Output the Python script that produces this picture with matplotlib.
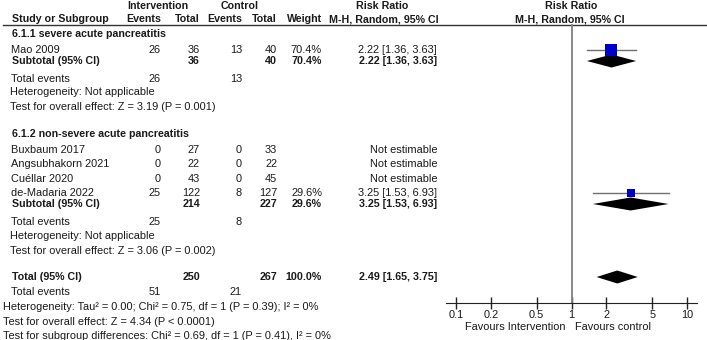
import matplotlib.pyplot as plt
import numpy as np

plt.rcParams['font.family'] = ['Liberation Sans', 'DejaVu Sans']

# study rows
studies = ['Mao 2009', 'Buxbaum 2017', 'Angsubhakorn 2021', 'Cuéllar 2020', 'de-Madaria 2022']
ev_int = [26, 0, 0, 0, 25]
tot_int = [36, 27, 22, 43, 122]
ev_ctl = [13, 0, 0, 0, 8]
tot_ctl = [40, 33, 22, 45, 127]
weights = [70.4, None, None, None, 29.6]
rr = [2.22, None, None, None, 3.25]
rr_lo = [1.36, None, None, None, 1.53]
rr_hi = [3.63, None, None, None, 6.93]

# subgroup / overall summaries
sub_names = ['Subtotal (95% CI)', 'Subtotal (95% CI)', 'Total (95% CI)']
sub_tot_int = [36, 214, 250]
sub_tot_ctl = [40, 227, 267]
sub_weight = [70.4, 29.6, 100.0]
sub_rr = [2.22, 3.25, 2.49]
sub_lo = [1.36, 1.53, 1.65]
sub_hi = [3.63, 6.93, 3.75]
sub_ev_int = [26, 25, 51]
sub_ev_ctl = [13, 8, 21]

ticks = [0.1, 0.2, 0.5, 1, 2, 5, 10]
tick_labels = ['0.1', '0.2', '0.5', '1', '2', '5', '10']

# pixel rows
study_y = [50, 150, 164, 179, 193]
sub_y = [61, 204, 277]
tev_y = [79, 222, 292]

fs = 7.9
fs_b = 7.7
col = '#1a1a1a'

fig = plt.figure(figsize=(7.07, 3.40), dpi=100)
ax = fig.add_axes([0, 0, 1, 1])
ax.set_xlim(0, 707)
ax.set_ylim(340, 0)
ax.axis('off')

def t(x, y, s, ha='left', bold=False):
    ax.text(x, y, s, ha=ha, va='center', fontsize=fs_b if bold else fs, color=col,
            fontweight='bold' if bold else 'normal')

# header
t(158, 6, 'Intervention', 'center', True)
t(240, 6, 'Control', 'center', True)
t(382, 6, 'Risk Ratio', 'center', True)
t(571, 6, 'Risk Ratio', 'center', True)
t(12, 19, 'Study or Subgroup', bold=True)
t(161, 19, 'Events', 'right', True)
t(200, 19, 'Total', 'right', True)
t(242, 19, 'Events', 'right', True)
t(277, 19, 'Total', 'right', True)
t(322, 19, 'Weight', 'right', True)
t(384, 19, 'M-H, Random, 95% CI', 'center', True)
t(570, 19, 'M-H, Random, 95% CI', 'center', True)
ax.plot([3, 707], [24.5, 24.5], color='#333333', lw=1)

t(12, 34, '6.1.1 severe acute pancreatitis', bold=True)
t(12, 134, '6.1.2 non-severe acute pancreatitis', bold=True)

for i, name in enumerate(studies):
    y = study_y[i]
    t(11, y, name)
    t(161, y, str(ev_int[i]), 'right')
    t(200, y, str(tot_int[i]), 'right')
    t(242, y, str(ev_ctl[i]), 'right')
    t(277, y, str(tot_ctl[i]), 'right')
    if weights[i] is None:
        t(437, y, 'Not estimable', 'right')
    else:
        t(322, y, f'{weights[i]:.1f}%', 'right')
        t(437, y, f'{rr[i]:.2f} [{rr_lo[i]:.2f}, {rr_hi[i]:.2f}]', 'right')

for i, name in enumerate(sub_names):
    y = sub_y[i]
    t(12, y, name, bold=True)
    t(200, y, str(sub_tot_int[i]), 'right', True)
    t(277, y, str(sub_tot_ctl[i]), 'right', True)
    t(322, y, f'{sub_weight[i]:.1f}%', 'right', True)
    t(437, y, f'{sub_rr[i]:.2f} [{sub_lo[i]:.2f}, {sub_hi[i]:.2f}]', 'right', True)
    ty = tev_y[i]
    t(11, ty, 'Total events')
    t(161, ty, str(sub_ev_int[i]), 'right')
    t(242, ty, str(sub_ev_ctl[i]), 'right')

t(10, 92, 'Heterogeneity: Not applicable')
t(10, 107, 'Test for overall effect: Z = 3.19 (P = 0.001)')
t(10, 236, 'Heterogeneity: Not applicable')
t(10, 251, 'Test for overall effect: Z = 3.06 (P = 0.002)')
t(3, 307, 'Heterogeneity: Tau² = 0.00; Chi² = 0.75, df = 1 (P = 0.39); I² = 0%')
t(3, 322, 'Test for overall effect: Z = 4.34 (P < 0.0001)')
t(3, 336, 'Test for subgroup differences: Chi² = 0.69, df = 1 (P = 0.41), I² = 0%')

# forest panel
x0, x1 = 446, 697
dec = 115.0
fa = fig.add_axes([x0 / 707, 0, (x1 - x0) / 707, 1])
fa.set_xscale('log')
fa.set_xlim(0.1 * 10 ** (-(456 - x0) / dec), 10 * 10 ** ((x1 - 687) / dec))
fa.set_ylim(340, 0)
fa.patch.set_alpha(0)
for s in ['top', 'left', 'right']:
    fa.spines[s].set_visible(False)
fa.spines['bottom'].set_position(('data', 303))
fa.spines['bottom'].set_color('#222222')
fa.set_yticks([])
fa.set_xticks(ticks)
fa.set_xticklabels(tick_labels)
fa.minorticks_off()
fa.tick_params(axis='x', direction='inout', length=8, width=1, color='#222222',
               labelsize=fs, labelcolor=col, pad=1)

fa.plot([1, 1], [24.5, 303], color='#808080', lw=1.3)

for i in range(len(studies)):
    if rr[i] is None:
        continue
    y = study_y[i]
    fa.plot([rr_lo[i], rr_hi[i]], [y, y], color='#707070', lw=1)
    fa.plot(rr[i], y, marker='s', color='#0000c8', markersize=8 * np.sqrt(weights[i] / 70.4),
            markeredgewidth=0, linestyle='none')

for i in range(len(sub_names)):
    y = sub_y[i]
    fa.fill([sub_lo[i], sub_rr[i], sub_hi[i], sub_rr[i]], [y, y - 6.5, y, y + 6.5], color='black', lw=0)

fa.text(515 / 707, 13 / 340, 'Favours Intervention', transform=fig.transFigure, ha='center',
        va='center', fontsize=fs, color=col)
fa.text(613 / 707, 13 / 340, 'Favours control', transform=fig.transFigure, ha='center',
        va='center', fontsize=fs, color=col)

fig.savefig('out.png', dpi=100)
